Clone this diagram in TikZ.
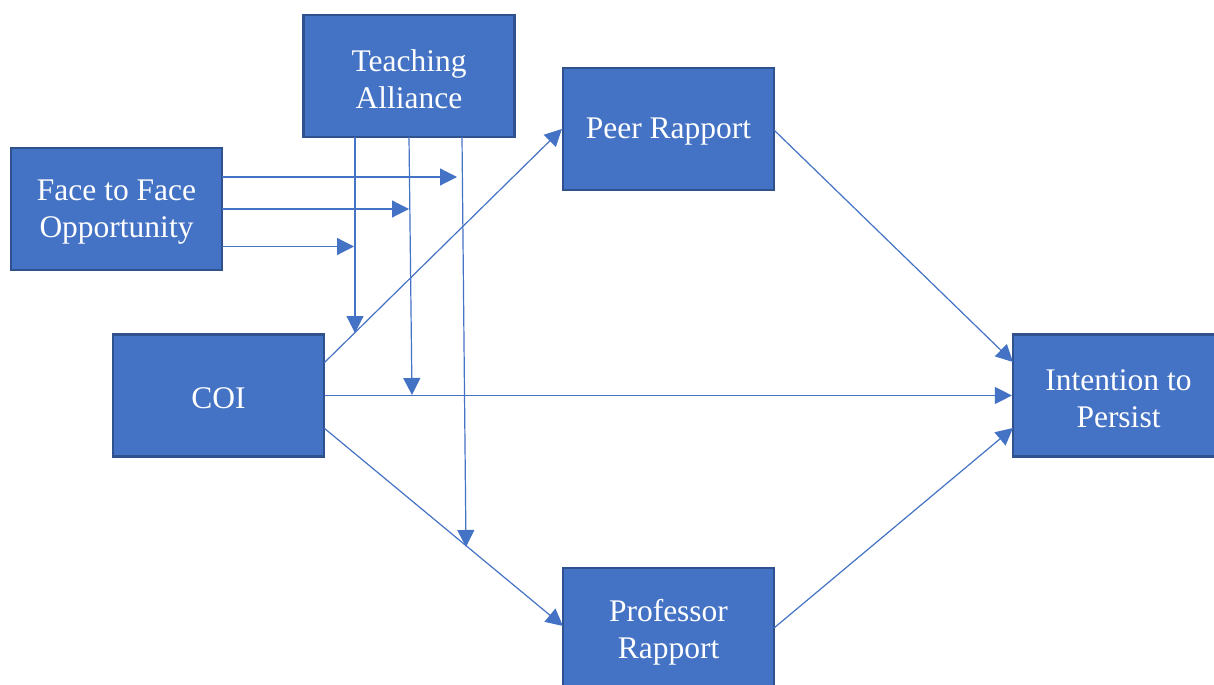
\documentclass[tikz,border=0pt]{standalone}
\usepackage{fontspec}
\setmainfont{Liberation Serif}
\usetikzlibrary{arrows.meta}
\definecolor{boxfill}{HTML}{4472C4}
\definecolor{boxedge}{HTML}{2F528F}
\definecolor{linecol}{HTML}{4472C4}
\tikzset{
  varbox/.style={draw=boxedge, line width=2.2bp, fill=boxfill,
    minimum width=211bp, minimum height=122bp, inner sep=0pt},
  boxtext/.style={text=white, align=center, inner sep=0pt, yshift=-3bp,
    font=\fontsize{31.5bp}{37bp}\selectfont},
  link/.style={draw=linecol, line width=1.2bp, -{Triangle[length=17bp,width=17bp]}}
}
\begin{document}
\begin{tikzpicture}[x=1bp,y=-1bp]
\useasboundingbox (0,0) rectangle (1214,685);
\clip (0,0) rectangle (1214,685);
\fill[white] (0,0) rectangle (1214,685);
% boxes
\node[varbox, label={[boxtext]center:Teaching\\Alliance}] (ta) at (409,76) {};
\node[varbox, label={[boxtext]center:Face to Face\\Opportunity}] (ftf) at (116.5,209) {};
\node[varbox, label={[boxtext]center:COI}] (coi) at (218.5,395.5) {};
\node[varbox, label={[boxtext]center:Peer Rapport}] (peer) at (668.5,129) {};
\node[varbox, label={[boxtext]center:Intention to\\Persist}] (int) at (1118.5,395.5) {};
\node[varbox, label={[boxtext]center:Professor\\Rapport}] (prof) at (668.5,629) {};
% main paths
\draw[link] (324,363) -- (peer.west);
\draw[link] (coi.east) -- (int.west);
\draw[link] (324,428) -- (563,626);
\draw[link] (774,130) -- (1013,362);
\draw[link] (774,628) -- (1013,428);
% moderation targets
\coordinate (m1) at (355,333);
\coordinate (m2) at (412,395);
\coordinate (m3) at (466,547);
\coordinate (f1) at (457,177);
\coordinate (f2) at (409,209);
\coordinate (f3) at (354,246.5);
% teaching alliance verticals
\draw[link] (355,137) -- (m1);
\draw[link] (409,137) -- (m2);
\draw[link] (462,137) -- (m3);
% face to face horizontals
\draw[link] (222,177) -- (f1);
\draw[link] (222,209) -- (f2);
\draw[link] (222,246.5) -- (f3);
\end{tikzpicture}
\end{document}
